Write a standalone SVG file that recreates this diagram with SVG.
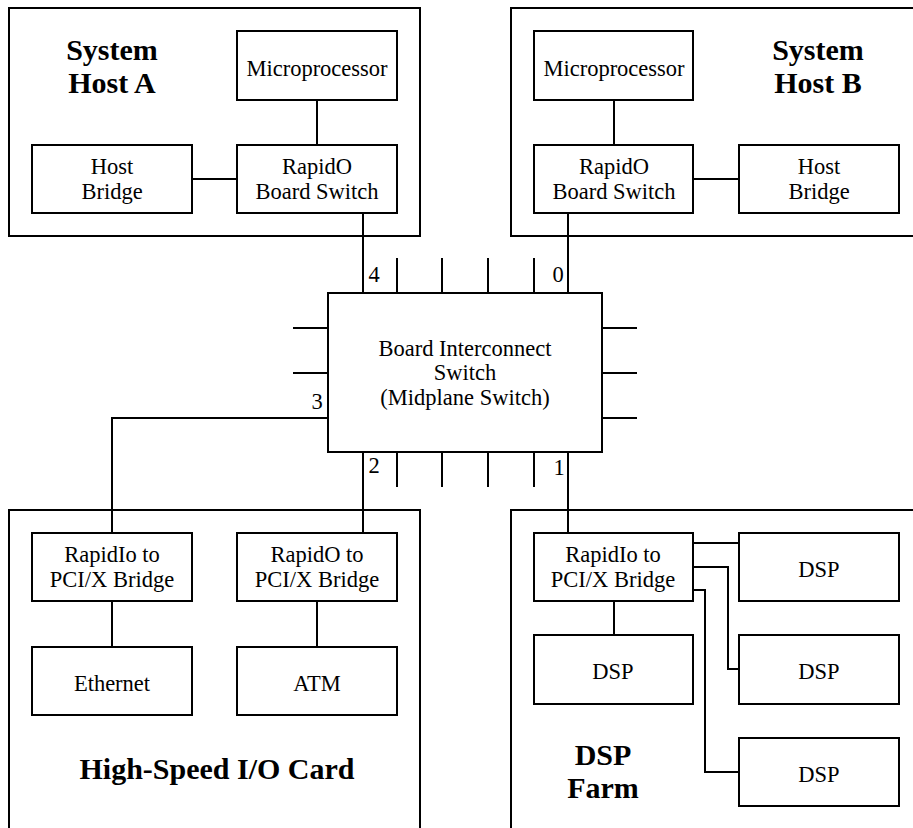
<svg xmlns="http://www.w3.org/2000/svg" width="913" height="828" viewBox="0 0 913 828">
<style>
rect{fill:#fff;stroke:#000;stroke-width:2}
.c line,.c polyline{stroke:#000;stroke-width:2;fill:none}
text{font-family:"Liberation Serif","Times New Roman",serif;font-size:22.5px;fill:#000;text-anchor:middle}
.t{font-weight:bold;font-size:30px}
</style>
<rect fill="#fff" style="stroke:none" x="0" y="0" width="913" height="828"/>
<g id="hostA">
<rect x="9" y="8" width="411" height="228"/>
<text class="t" x="112" y="60">System</text>
<text class="t" x="112" y="93">Host A</text>
</g>
<g id="hostB">
<rect x="511" y="8" width="420" height="228"/>
<text class="t" x="818" y="60">System</text>
<text class="t" x="818" y="93">Host B</text>
</g>
<g id="ioCard">
<rect x="9" y="510" width="411" height="330"/>
<text class="t" x="217" y="779">High-Speed I/O Card</text>
</g>
<g id="dspFarm">
<rect x="511" y="510" width="420" height="330"/>
<text class="t" x="603" y="765">DSP</text>
<text class="t" x="603" y="798">Farm</text>
</g>
<g class="c" id="connectors">
<line x1="317" y1="100" x2="317" y2="145"/>
<line x1="192" y1="179" x2="237" y2="179"/>
<line x1="614" y1="100" x2="614" y2="145"/>
<line x1="693" y1="179" x2="739" y2="179"/>
<line x1="363" y1="213" x2="363" y2="293"/>
<line x1="568" y1="213" x2="568" y2="293"/>
<line x1="397" y1="258" x2="397" y2="293"/>
<line x1="442" y1="258" x2="442" y2="293"/>
<line x1="488" y1="258" x2="488" y2="293"/>
<line x1="534" y1="258" x2="534" y2="293"/>
<line x1="363" y1="452" x2="363" y2="533"/>
<line x1="568" y1="452" x2="568" y2="533"/>
<line x1="397" y1="452" x2="397" y2="487"/>
<line x1="442" y1="452" x2="442" y2="487"/>
<line x1="488" y1="452" x2="488" y2="487"/>
<line x1="534" y1="452" x2="534" y2="487"/>
<line x1="293" y1="328" x2="328" y2="328"/>
<line x1="293" y1="373" x2="328" y2="373"/>
<polyline points="328,418 112,418 112,533"/>
<line x1="602" y1="328" x2="637" y2="328"/>
<line x1="602" y1="373" x2="637" y2="373"/>
<line x1="602" y1="418" x2="637" y2="418"/>
<line x1="112" y1="601" x2="112" y2="647"/>
<line x1="317" y1="601" x2="317" y2="647"/>
<line x1="614" y1="601" x2="614" y2="635"/>
<line x1="693" y1="543" x2="739" y2="543"/>
<polyline points="693,567 728,567 728,669 739,669"/>
<polyline points="693,590 705,590 705,772 739,772"/>
</g>
<g id="microA"><rect x="237" y="31" width="160" height="69"/><text x="317" y="76">Microprocessor</text></g>
<g id="bridgeA"><rect x="32" y="145" width="160" height="68"/><text x="112" y="174">Host</text><text x="112" y="199">Bridge</text></g>
<g id="switchA"><rect x="237" y="145" width="160" height="68"/><text x="317" y="174">RapidO</text><text x="317" y="199">Board Switch</text></g>
<g id="microB"><rect x="534" y="31" width="159" height="69"/><text x="614" y="76">Microprocessor</text></g>
<g id="switchB"><rect x="534" y="145" width="159" height="68"/><text x="614" y="174">RapidO</text><text x="614" y="199">Board Switch</text></g>
<g id="bridgeB"><rect x="739" y="145" width="160" height="68"/><text x="819" y="174">Host</text><text x="819" y="199">Bridge</text></g>
<g id="midplane">
<rect x="328" y="293" width="274" height="159"/>
<text x="465" y="356">Board Interconnect</text>
<text x="465" y="380">Switch</text>
<text x="465" y="405">(Midplane Switch)</text>
<text x="374" y="282">4</text>
<text x="558" y="282">0</text>
<text x="317" y="409">3</text>
<text x="374" y="473">2</text>
<text x="559" y="475">1</text>
</g>
<g id="ioBridge1"><rect x="32" y="533" width="160" height="68"/><text x="112" y="562">RapidIo to</text><text x="112" y="587">PCI/X Bridge</text></g>
<g id="ioBridge2"><rect x="237" y="533" width="160" height="68"/><text x="317" y="562">RapidO to</text><text x="317" y="587">PCI/X Bridge</text></g>
<g id="ethernet"><rect x="32" y="647" width="160" height="68"/><text x="112" y="691">Ethernet</text></g>
<g id="atm"><rect x="237" y="647" width="160" height="68"/><text x="317" y="691">ATM</text></g>
<g id="dspBridge"><rect x="534" y="533" width="159" height="68"/><text x="613" y="562">RapidIo to</text><text x="613" y="587">PCI/X Bridge</text></g>
<g id="dsp1"><rect x="739" y="533" width="160" height="68"/><text x="819" y="577">DSP</text></g>
<g id="dsp2"><rect x="534" y="635" width="159" height="69"/><text x="613" y="679">DSP</text></g>
<g id="dsp3"><rect x="739" y="635" width="160" height="69"/><text x="819" y="679">DSP</text></g>
<g id="dsp4"><rect x="739" y="738" width="160" height="68"/><text x="819" y="782">DSP</text></g>
</svg>
